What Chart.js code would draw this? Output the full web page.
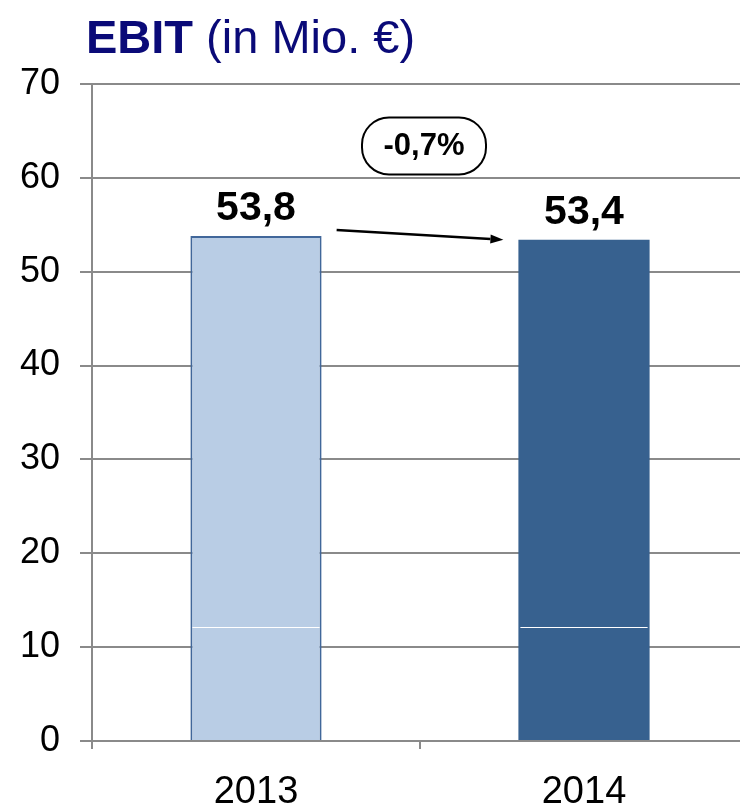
<!DOCTYPE html>
<html>
<head>
<meta charset="utf-8">
<script src="https://cdn.jsdelivr.net/npm/chart.js@4"></script>
<style>
  html, body { margin: 0; padding: 0; background: #fff; overflow: hidden; }
  #wrap { position: relative; width: 748px; height: 808px; }
  #titel {
    position: absolute; left: 86px; top: 13px;
    font-family: "Liberation Sans", Arial, sans-serif;
    font-size: 47px; line-height: 47px; color: #0a0a78; white-space: nowrap;
  }
  #titel b { font-weight: bold; }
</style>
</head>
<body>
<div id="wrap">
  <div id="titel"><b>EBIT</b> (in Mio. €)</div>
  <canvas id="grafico" width="748" height="808"></canvas>
</div>
<script>
// Datos del gráfico
const jahre = ['2013', '2014'];
const ebitWerte = [53.8, 53.4];
const yMin = 0;
const yMax = 70;
const ySchritt = 10;

// Colores
const farbeFuellung = ['#b9cde5', '#37618f'];
const farbeRand = ['#41679a', '#37618f'];
const grau = '#8a8a8a';

function formatDE(v, dec) {
  return v.toFixed(dec).replace('.', ',');
}

// Plugin: etiquetas, flecha y caja de variación
const extras = {
  id: 'extras',
  afterDatasetsDraw(chart) {
    const ctx = chart.ctx;
    const meta = chart.getDatasetMeta(0);
    const y = chart.scales.y;
    const b1 = meta.data[0];
    const b2 = meta.data[1];

    ctx.save();
    // línea blanca fina que cruza las barras
    const yLinie = Math.round(y.getPixelForValue(12.15)) + 0.5;
    ctx.strokeStyle = '#fff';
    ctx.lineWidth = 1;
    meta.data.forEach((bar) => {
      ctx.beginPath();
      ctx.moveTo(bar.x - bar.width / 2 + 2, yLinie);
      ctx.lineTo(bar.x + bar.width / 2 - 2, yLinie);
      ctx.stroke();
    });

    // valores sobre las barras
    ctx.fillStyle = '#000';
    ctx.font = 'bold 41px "Liberation Sans", Arial, sans-serif';
    ctx.textAlign = 'center';
    ctx.textBaseline = 'alphabetic';
    meta.data.forEach((bar, i) => {
      ctx.fillText(formatDE(ebitWerte[i], 1), bar.x, bar.y - 16);
    });

    // flecha
    const x0 = b1.x + b1.width / 2 + 15;
    const y0 = b1.y - 6;
    const x1 = b2.x - b2.width / 2 - 15;
    const y1 = b2.y;
    const ang = Math.atan2(y1 - y0, x1 - x0);
    const kopf = 13;
    ctx.strokeStyle = '#000';
    ctx.lineWidth = 2.5;
    ctx.beginPath();
    ctx.moveTo(x0, y0);
    ctx.lineTo(x1 - kopf * Math.cos(ang), y1 - kopf * Math.sin(ang));
    ctx.stroke();
    ctx.beginPath();
    ctx.moveTo(x1, y1);
    ctx.lineTo(x1 - kopf * Math.cos(ang) + 4.5 * Math.sin(ang), y1 - kopf * Math.sin(ang) - 4.5 * Math.cos(ang));
    ctx.lineTo(x1 - kopf * Math.cos(ang) - 4.5 * Math.sin(ang), y1 - kopf * Math.sin(ang) + 4.5 * Math.cos(ang));
    ctx.closePath();
    ctx.fillStyle = '#000';
    ctx.fill();

    // caja con la variación
    const delta = (ebitWerte[1] - ebitWerte[0]) / ebitWerte[0] * 100;
    const txt = formatDE(delta, 1) + '%';
    const cx = (b1.x + b2.x) / 2 + 4;
    const cy = y.getPixelForValue(63.4);
    const w = 124, h = 57, r = 27;
    ctx.beginPath();
    ctx.roundRect(cx - w / 2, cy - h / 2, w, h, r);
    ctx.fillStyle = '#fff';
    ctx.fill();
    ctx.lineWidth = 2;
    ctx.strokeStyle = '#000';
    ctx.stroke();
    ctx.fillStyle = '#000';
    ctx.font = 'bold 31px "Liberation Sans", Arial, sans-serif';
    ctx.textBaseline = 'middle';
    ctx.fillText(txt, cx, cy + 1);
    ctx.restore();
  }
};

new Chart(document.getElementById('grafico'), {
  type: 'bar',
  data: {
    labels: jahre,
    datasets: [{
      data: ebitWerte,
      backgroundColor: farbeFuellung,
      borderColor: farbeRand,
      borderWidth: [2, 0],
      barPercentage: 0.4,
      categoryPercentage: 1.0
    }]
  },
  options: {
    responsive: false,
    animation: false,
    layout: { padding: { top: 84, left: 0, right: 0, bottom: 0 } },
    plugins: {
      legend: { display: false },
      tooltip: { enabled: false }
    },
    scales: {
      x: {
        afterFit: (s) => { s.height = 67; },
        grid: { drawOnChartArea: false, offset: true, tickLength: 8, color: grau, lineWidth: 2 },
        border: { color: grau, width: 2 },
        ticks: {
          color: '#000',
          padding: 21,
          font: { family: '"Liberation Sans Narrow", "Liberation Sans", Arial', size: 38 }
        }
      },
      y: {
        min: yMin,
        max: yMax,
        afterFit: (s) => { s.width = 92; },
        grid: { color: grau, lineWidth: 2, tickLength: 12 },
        border: { color: grau, width: 2 },
        ticks: {
          stepSize: ySchritt,
          color: '#000',
          padding: 20,
          font: { family: '"Liberation Sans", Arial', size: 36 }
        }
      }
    }
  },
  plugins: [extras]
});
</script>
</body>
</html>
